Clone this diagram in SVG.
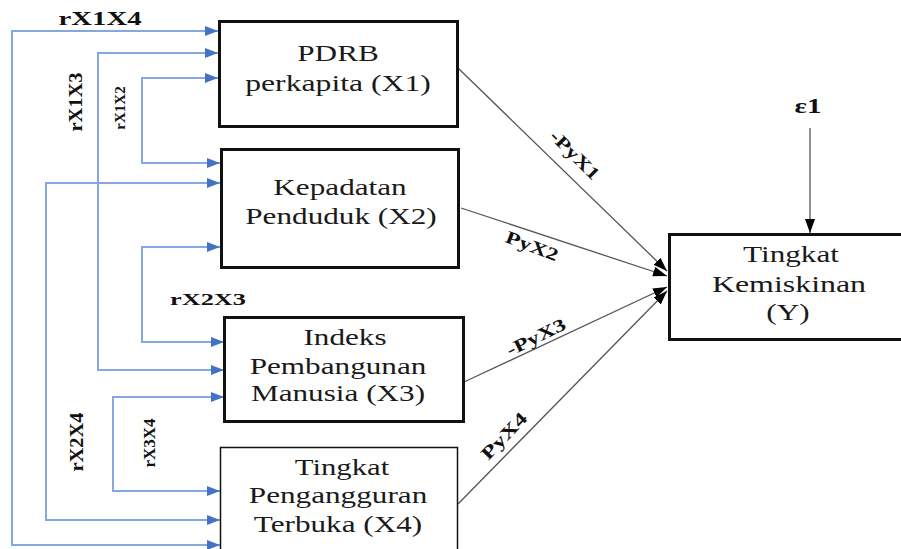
<svg xmlns="http://www.w3.org/2000/svg" width="901" height="549" viewBox="0 0 901 549" font-family="'Liberation Serif', 'Times New Roman', serif">
<defs>
<style>
.box{fill:#fff;stroke:#111;stroke-width:3}
.thin{stroke-width:1.5}
.nt{font-family:'Liberation Serif','Times New Roman',serif;font-size:24px;fill:#1a1a1a;text-anchor:middle}
.lb{font-family:'Liberation Serif','Times New Roman',serif;font-weight:bold;fill:#111;text-anchor:middle}
.bl{fill:none;stroke:#86A8E0;stroke-width:2}
.pl{fill:none;stroke:#555;stroke-width:1.3}
</style>
<marker id="ab" viewBox="0 0 13 10" refX="13" refY="5" markerWidth="13" markerHeight="10" markerUnits="userSpaceOnUse" orient="auto-start-reverse"><path d="M0,0 L13,5 L0,10 Z" fill="#4472C4"/></marker>
<marker id="ak" viewBox="0 0 14 10" refX="14" refY="5" markerWidth="14" markerHeight="10" markerUnits="userSpaceOnUse" orient="auto"><path d="M0,0 L14,5 L0,10 Z" fill="#000"/></marker>
</defs>
<rect width="901" height="549" fill="#fff"/>

<g id="connectors">
<path class="bl" d="M218,31 H12 V545 H220" marker-start="url(#ab)" marker-end="url(#ab)"/>
<path class="bl" d="M218,53 H98 V370 H224" marker-start="url(#ab)" marker-end="url(#ab)"/>
<path class="bl" d="M218,78 H142 V163 H220" marker-start="url(#ab)" marker-end="url(#ab)"/>
<path class="bl" d="M220,183 H46 V520 H220" marker-start="url(#ab)" marker-end="url(#ab)"/>
<path class="bl" d="M220,247 H142 V342 H224" marker-start="url(#ab)" marker-end="url(#ab)"/>
<path class="bl" d="M224,397 H113 V491 H220" marker-start="url(#ab)" marker-end="url(#ab)"/>
<path class="pl" d="M458,68 L667,271" marker-end="url(#ak)"/>
<path class="pl" d="M461,208 L667,276" marker-end="url(#ak)"/>
<path class="pl" d="M464,382 L667,287" marker-end="url(#ak)"/>
<path class="pl" d="M458,504 L667,291" marker-end="url(#ak)"/>
<path class="pl" d="M810,128 L810,233" marker-end="url(#ak)"/>
<text class="lb" font-size="18" transform="translate(100,25) scale(1.6,1)">rX1X4</text>
<text class="lb" font-size="19" transform="translate(82,102) rotate(-90) scale(1.08,1)">rX1X3</text>
<text class="lb" font-size="15" transform="translate(125,108) rotate(-90)">rX1X2</text>
<text class="lb" font-size="17" transform="translate(208,305) scale(1.55,1)">rX2X3</text>
<text class="lb" font-size="19" transform="translate(83,442) rotate(-90) scale(1.08,1)">rX2X4</text>
<text class="lb" font-size="17" transform="translate(155,443) rotate(-90)">rX3X4</text>
<text class="lb" font-size="18" transform="translate(575,155) rotate(45) scale(1.29,1)" y="6">-PyX1</text>
<text class="lb" font-size="18" transform="translate(532,246) rotate(21) scale(1.31,1)" y="6">PyX2</text>
<text class="lb" font-size="18" transform="translate(536,337) rotate(-26) scale(1.33,1)" y="6">-PyX3</text>
<text class="lb" font-size="18" transform="translate(504,436) rotate(-46) scale(1.38,1)" y="6">PyX4</text>
<text class="lb" font-size="20" transform="translate(808,113) scale(1.45,1)">ε1</text>
</g>

<g id="X1">
<rect class="box" x="219.5" y="21.5" width="238" height="105"/>
<text class="nt" transform="translate(338,61) scale(1.3,1)">PDRB</text>
<text class="nt" transform="translate(338,91) scale(1.32,1)">perkapita (X1)</text>
</g>
<g id="X2">
<rect class="box" x="221.5" y="149.5" width="237" height="118"/>
<text class="nt" transform="translate(340,195) scale(1.3,1)">Kepadatan</text>
<text class="nt" transform="translate(341,224) scale(1.3,1)">Penduduk (X2)</text>
</g>
<g id="X3">
<rect class="box" x="224.5" y="317.5" width="239" height="104"/>
<text class="nt" transform="translate(345,345) scale(1.3,1)">Indeks</text>
<text class="nt" transform="translate(338,374) scale(1.3,1)">Pembangunan</text>
<text class="nt" transform="translate(338,401) scale(1.3,1)">Manusia (X3)</text>
</g>
<g id="X4">
<rect class="box thin" x="220.5" y="447.5" width="237" height="110"/>
<text class="nt" transform="translate(342,475) scale(1.28,1)">Tingkat</text>
<text class="nt" transform="translate(338,503) scale(1.3,1)">Pengangguran</text>
<text class="nt" transform="translate(338,532) scale(1.3,1)">Terbuka (X4)</text>
</g>
<g id="Y">
<rect class="box" x="669.5" y="234.5" width="250" height="105"/>
<text class="nt" transform="translate(791,262) scale(1.3,1)">Tingkat</text>
<text class="nt" transform="translate(789,292) scale(1.33,1)">Kemiskinan</text>
<text class="nt" transform="translate(788,320) scale(1.3,1)">(Y)</text>
</g>
</svg>
